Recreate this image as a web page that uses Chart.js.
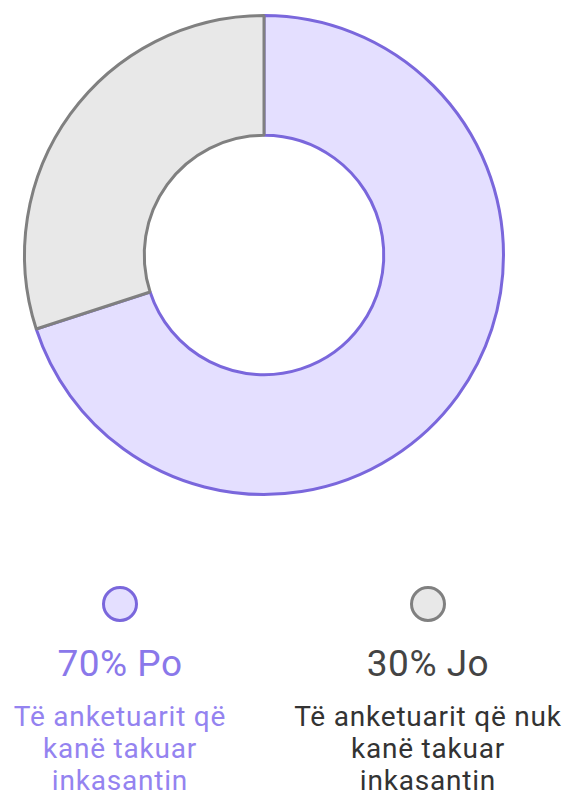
<!DOCTYPE html>
<html>
<head>
<meta charset="utf-8">
<script src="https://cdn.jsdelivr.net/npm/chart.js@4"></script>
<style>
  body { margin: 0; background: #fff; font-family: Roboto, sans-serif; }
  #wrap { position: relative; width: 566px; height: 800px; }
  #chartBox { position: absolute; left: 0; top: 0; width: 566px; height: 510px; }
  .item { position: absolute; top: 583px; width: 320px; text-align: center; }
  .dot { width: 36px; height: 36px; border-radius: 50%; border: 3px solid; box-sizing: border-box; margin: 3px auto 0; }
  .pct { font-size: 37px; margin-top: 20px; line-height: 44px; letter-spacing: 0.5px; }
  .desc { font-size: 28px; line-height: 32px; margin-top: 15px; white-space: pre-line; letter-spacing: 0.8px; }
</style>
</head>
<body>
<div id="wrap">
  <div id="chartBox"><canvas id="donut"></canvas></div>
  <div id="legend"></div>
</div>
<script>
const etiketat = ["Po", "Jo"];
const vlerat = [70, 30];
const pershkrimet = ["Të anketuarit që\nkanë takuar\ninkasantin", "Të anketuarit që nuk\nkanë takuar\ninkasantin"];
const ngjyratMbushje = ["#e4dfff", "#e8e8e8"];
const ngjyratKufiri = ["#7a67dc", "#808080"];
const ngjyratTitulli = ["#8a78ea", "#444444"];
const ngjyratTeksti = ["#9483f0", "#333333"];
const qendratLegjendes = [120, 428];

const ctx = document.getElementById("donut").getContext("2d");

new Chart(ctx, {
    type: "doughnut",
    data: {
        labels: etiketat,
        datasets: [{
            data: vlerat,
            backgroundColor: ngjyratMbushje,
            borderColor: ngjyratKufiri,
            borderWidth: 3,
            borderAlign: "center"
        }]
    },
    options: {
        responsive: true,
        maintainAspectRatio: false,
        animation: false,
        cutout: "50%",
        layout: { padding: { left: 23, right: 61, top: 14, bottom: 14 } },
        plugins: {
            legend: { display: false },
            tooltip: { enabled: false }
        }
    }
});

// legjenda poshte grafikut
const legend = document.getElementById("legend");
etiketat.forEach((et, i) => {
    const d = document.createElement("div");
    d.className = "item";
    d.style.left = (qendratLegjendes[i] - 160) + "px";
    d.innerHTML =
        '<div class="dot" style="background:' + ngjyratMbushje[i] + ';border-color:' + ngjyratKufiri[i] + '"></div>' +
        '<div class="pct" style="color:' + ngjyratTitulli[i] + '">' + vlerat[i] + '% ' + et + '</div>' +
        '<div class="desc" style="color:' + ngjyratTeksti[i] + '"></div>';
    d.querySelector(".desc").textContent = pershkrimet[i];
    legend.appendChild(d);
});
</script>
</body>
</html>
